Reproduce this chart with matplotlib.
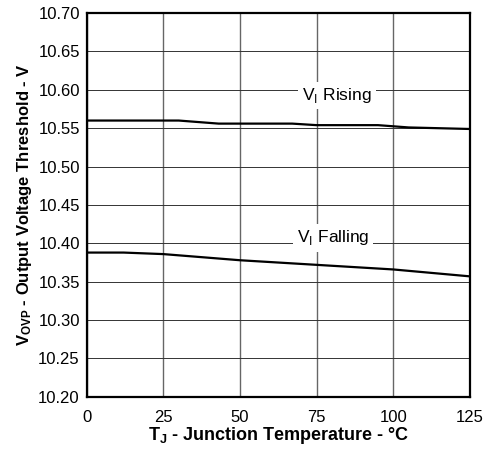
import numpy as np
import matplotlib.pyplot as plt

plt.rcParams['font.family'] = ['Liberation Sans', 'DejaVu Sans']
plt.rcParams['mathtext.fontset'] = 'custom'
plt.rcParams['mathtext.rm'] = 'Liberation Sans'
plt.rcParams['mathtext.bf'] = 'Liberation Sans:bold'

# data
temp_rising = [0, 30, 43, 67, 75, 95, 105, 125]
v_rising = [10.560, 10.560, 10.556, 10.556, 10.554, 10.554, 10.551, 10.549]
temp_falling = [0, 12, 25, 50, 75, 100, 125]
v_falling = [10.388, 10.388, 10.386, 10.378, 10.372, 10.366, 10.357]

x_ticks = [0, 25, 50, 75, 100, 125]
y_ticks = [10.20, 10.25, 10.30, 10.35, 10.40, 10.45, 10.50, 10.55, 10.60, 10.65, 10.70]

fig = plt.figure(figsize=(4.85, 4.51), dpi=100)
ax = fig.add_axes([0.179, 0.12, 0.79, 0.851])

ax.plot(temp_rising, v_rising, color='black', lw=1.6, zorder=3)
ax.plot(temp_falling, v_falling, color='black', lw=1.6, zorder=3)

ax.set_xlim(0, 125)
ax.set_ylim(10.20, 10.70)
ax.set_xticks(x_ticks)
ax.set_yticks(y_ticks)
ax.set_yticklabels([f'{v:.2f}' for v in y_ticks])
ax.tick_params(length=0, labelsize=12)
ax.tick_params(axis='x', pad=9.5)
ax.tick_params(axis='y', pad=5)
ax.grid(True, axis='y', color='#333333', lw=0.7)
ax.grid(True, axis='x', color='#666666', lw=1.0)

for s in ax.spines.values():
    s.set_linewidth(1.6)

box = dict(facecolor='white', edgecolor='none', pad=3)
ax.text(81.6, 10.593, r'V$_\mathrm{I}$ Rising', ha='center', va='center', fontsize=12.5, bbox=box, zorder=4)
ax.text(80.3, 10.407, r'V$_\mathrm{I}$ Falling', ha='center', va='center', fontsize=12.5, bbox=box, zorder=4)

ax.set_xlabel(r'$\mathbf{T_J}$ - Junction Temperature - °C', fontsize=13, fontweight='bold', labelpad=0)
ax.set_ylabel(r'$\mathbf{V_{OVP}}$ - Output Voltage Threshold - V', fontsize=12, fontweight='bold', labelpad=3)

fig.savefig('out.png', dpi=100)
